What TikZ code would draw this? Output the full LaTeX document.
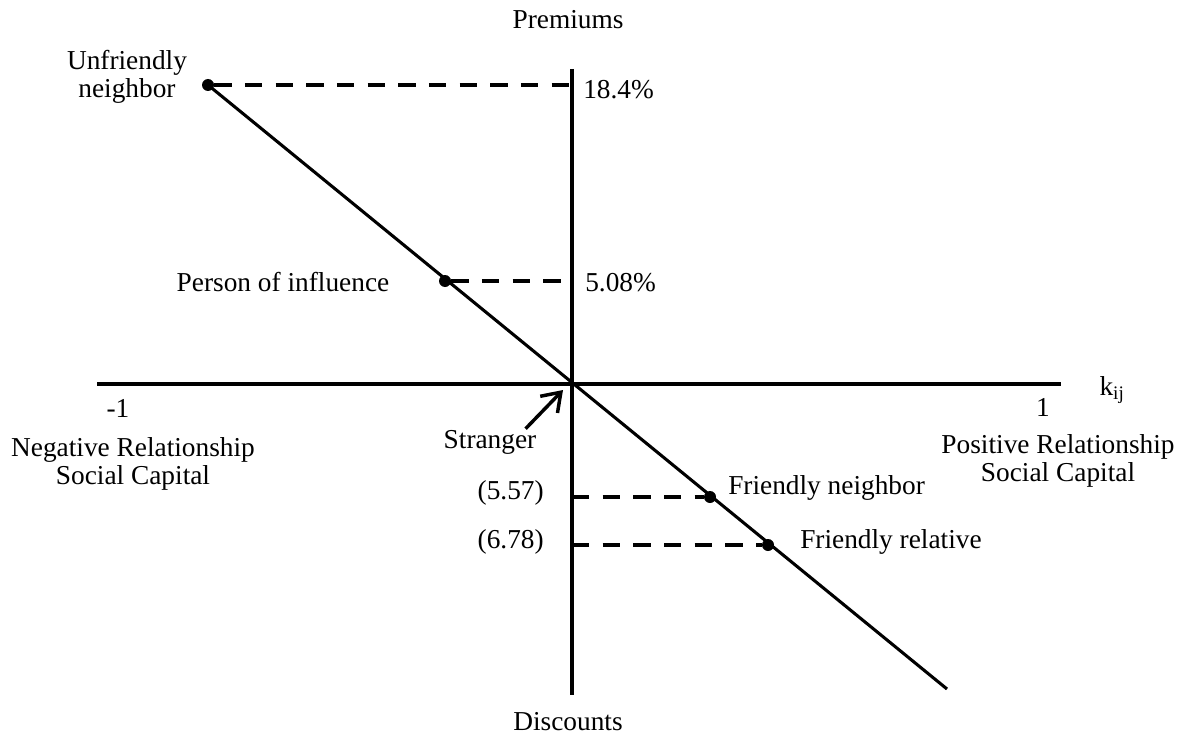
\documentclass[tikz,border=0pt]{standalone}
\usepackage{fontspec}
\setmainfont{Liberation Serif}
\usetikzlibrary{arrows.meta}

\tikzset{
  dot/.style={circle,fill=black,inner sep=0pt,minimum size=9pt},
  lbl/.style={inner sep=0.75pt,font=\fontsize{20.5}{21}\selectfont,align=center},
  axisline/.style={line width=3.2pt},
  guide/.style={line width=3pt,dash pattern={on 13pt off 10pt}},
  pointer/.style={line width=2.6pt,-{Straight Barb[length=13pt,width=18pt,line width=2.6pt]}},
}

\begin{document}
\begin{tikzpicture}[x=0.75pt,y=0.75pt,yscale=-1,xscale=1]
\useasboundingbox (0,0) rectangle (1184,738);
% axes
\coordinate (O) at (572,384);
\coordinate (xl) at (97,384);
\coordinate (xr) at (1061,384);
\coordinate (yt) at (572,69);
\coordinate (yb) at (572,695);
\draw[axisline] (xl) -- (xr);
\draw[axisline] (yt) -- (yb);
% points on the line
\node[dot] (unf) at (208,85) {};
\node[dot] (inf) at (445,281) {};
\node[dot] (fnb) at (710,497) {};
\node[dot] (frl) at (768,545) {};
\coordinate (lineend) at (947,689);
\draw[line width=2.3pt] (unf.center) -- (lineend);
% guides to the axis
\draw[guide] (unf) -- (unf -| O);
\draw[guide] (inf) -- (inf -| O);
\draw[guide] (fnb -| O) -- (fnb);
\draw[guide] (frl -| O) -- (frl);
% labels
\node[lbl] (prem) at (568,20) {Premiums};
\node[lbl] (disc) at (568,722) {Discounts};
\node[lbl,anchor=west] (p184) at (582,90) {18.4\%};
\node[lbl,anchor=west] (p508) at (584,283) {5.08\%};
\node[lbl,anchor=east] (d557) at (545,493) {(5.57)};
\node[lbl,anchor=east] (d678) at (545,542) {(6.78)};
\node[lbl] (unflbl) at (127,77) {Unfriendly\\neighbor};
\node[lbl] (inflbl) at (283,282) {Person of influence};
\node[lbl,anchor=west] (fnblbl) at (727,488) {Friendly neighbor};
\node[lbl,anchor=west] (frllbl) at (799,542) {Friendly relative};
\node[lbl] (str) at (490,442) {Stranger};
\node[lbl] (m1) at (118,408) {-1};
\node[lbl] (p1) at (1043,407) {1};
\node[lbl] (kij) at (1112,390) {k\textsubscript{ij}};
\node[lbl] (neg) at (133,464) {Negative Relationship\\Social Capital};
\node[lbl] (pos) at (1058,461) {Positive Relationship\\Social Capital};
% stranger arrow
\coordinate (strtip) at (563,390);
\draw[pointer] ([xshift=-9]str.north east) -- (strtip);
\end{tikzpicture}
\end{document}
